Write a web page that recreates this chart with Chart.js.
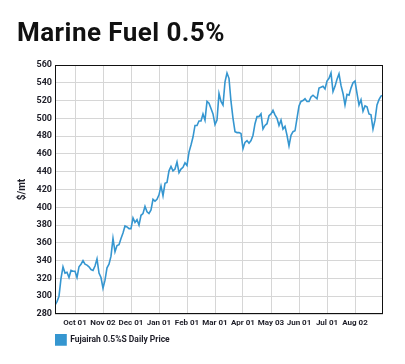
<!DOCTYPE html>
<html>
<head>
<meta charset="utf-8">
<script src="https://cdn.jsdelivr.net/npm/chart.js@4.4.1/dist/chart.umd.min.js"></script>
<style>
    html, body { margin: 0; padding: 0; background: #fff; }
    #wrap { position: relative; width: 405px; height: 364px; overflow: hidden; }
    #title {
        position: absolute; left: 17px; top: 19px; margin: 0;
        font: 700 26px/26px Roboto, sans-serif; letter-spacing: 0.45px;
        color: #111; white-space: nowrap;
    }
    #chart { position: absolute; left: 0; top: 0; }
</style>
</head>
<body>
<div id="wrap">
    <canvas id="chart" width="405" height="364"></canvas>
    <h1 id="title">Marine Fuel 0.5%</h1>
</div>
<script>
// daily price, sampled across Sep 2020 - Aug 2021 ($/mt)
const fuelPrice = [
    290, 294, 300, 320, 333, 326, 327, 321, 329, 328,
    328, 321, 333, 336, 340, 336, 335, 333, 330, 329,
    334, 342, 326, 321, 309, 318, 332, 336, 345, 365,
    350, 357, 358, 365, 371, 379, 378, 376, 376, 388,
    383, 386, 380, 391, 393, 401, 395, 393, 397, 409,
    407, 409, 414, 424, 413, 427, 428, 441, 446, 441,
    443, 451, 439, 443, 445, 450, 447, 462, 470, 479,
    492, 492, 497, 497, 505, 498, 519, 517, 511, 505,
    493, 498, 528, 519, 515, 541, 551, 545, 519, 500,
    485, 484, 484, 483, 466, 473, 475, 472, 475, 481,
    494, 502, 502, 505, 488, 492, 494, 503, 505, 509,
    504, 500, 492, 498, 488, 491, 481, 469, 481, 485,
    486, 500, 514, 519, 520, 522, 519, 519, 524, 526,
    524, 522, 534, 535, 536, 533, 542, 545, 551, 530,
    536, 544, 550, 537, 528, 515, 527, 526, 534, 540,
    542, 528, 515, 521, 508, 514, 513, 505, 504, 488,
    498, 515, 521, 525, 526
];

// sample index where each month label sits
const monthTicks = [10, 24, 38, 52, 66, 80, 94, 108, 122, 136, 150];
const monthLabels = ['Oct 01', 'Nov 02', 'Dec 01', 'Jan 01', 'Feb 01', 'Mar 01',
    'Apr 01', 'May 03', 'Jun 01', 'Jul 01', 'Aug 02'];

const seriesName = 'Fujairah 0.5%S Daily Price';
const yMin = 280, yMax = 560, yStep = 20;

const lineColor = '#3596d0';
const textColor = '#1e1e28';

// black frame round the plot
const frame = {
    id: 'frame',
    afterDatasetsDraw(chart) {
        const a = chart.chartArea;
        const c = chart.ctx;
        c.save();
        c.strokeStyle = '#111';
        c.lineWidth = 1;
        c.strokeRect(Math.round(a.left) + 0.5, Math.round(a.top) + 0.5,
            Math.round(a.right - a.left) - 1, Math.round(a.bottom - a.top) - 1);
        c.restore();
    }
};

new Chart(document.getElementById('chart'), {
    type: 'line',
    data: {
        datasets: [{
            label: seriesName,
            data: fuelPrice.map((v, i) => ({ x: i, y: v })),
            borderColor: lineColor,
            backgroundColor: lineColor,
            borderWidth: 1.6,
            pointRadius: 0,
            tension: 0
        }]
    },
    options: {
        responsive: false,
        animation: false,
        layout: { padding: { top: 65, left: 12, right: 22, bottom: 9 } },
        scales: {
            x: {
                type: 'linear',
                min: 0,
                max: fuelPrice.length - 1,
                afterBuildTicks: s => { s.ticks = monthTicks.map(v => ({ value: v })); },
                afterFit: s => { s.height = 20; },
                grid: { color: '#d6d6d6', drawTicks: false },
                border: { display: false },
                ticks: {
                    padding: 4,
                    color: textColor,
                    font: { family: 'Roboto', size: 8, weight: 'bold' },
                    maxRotation: 0,
                    autoSkip: false,
                    callback: (v, i) => monthLabels[i]
                }
            },
            y: {
                min: yMin,
                max: yMax,
                afterFit: s => { s.width = 43; },
                grid: { color: '#d6d6d6', drawTicks: false },
                border: { display: false },
                ticks: {
                    stepSize: yStep,
                    padding: 3,
                    color: textColor,
                    font: { family: 'Roboto', size: 9, weight: 'bold' }
                },
                title: {
                    display: true,
                    text: '$/mt',
                    color: textColor,
                    font: { family: 'Roboto', size: 10, weight: 'bold' },
                    padding: { top: 4, bottom: 0 }
                }
            }
        },
        plugins: {
            legend: {
                position: 'bottom',
                align: 'start',
                fullSize: false,
                labels: {
                    boxWidth: 11,
                    boxHeight: 11,
                    padding: 0,
                    color: textColor,
                    font: { family: 'Roboto', size: 8.5, weight: 'bold' }
                }
            },
            tooltip: { enabled: false }
        }
    },
    plugins: [frame]
});
</script>
</body>
</html>
